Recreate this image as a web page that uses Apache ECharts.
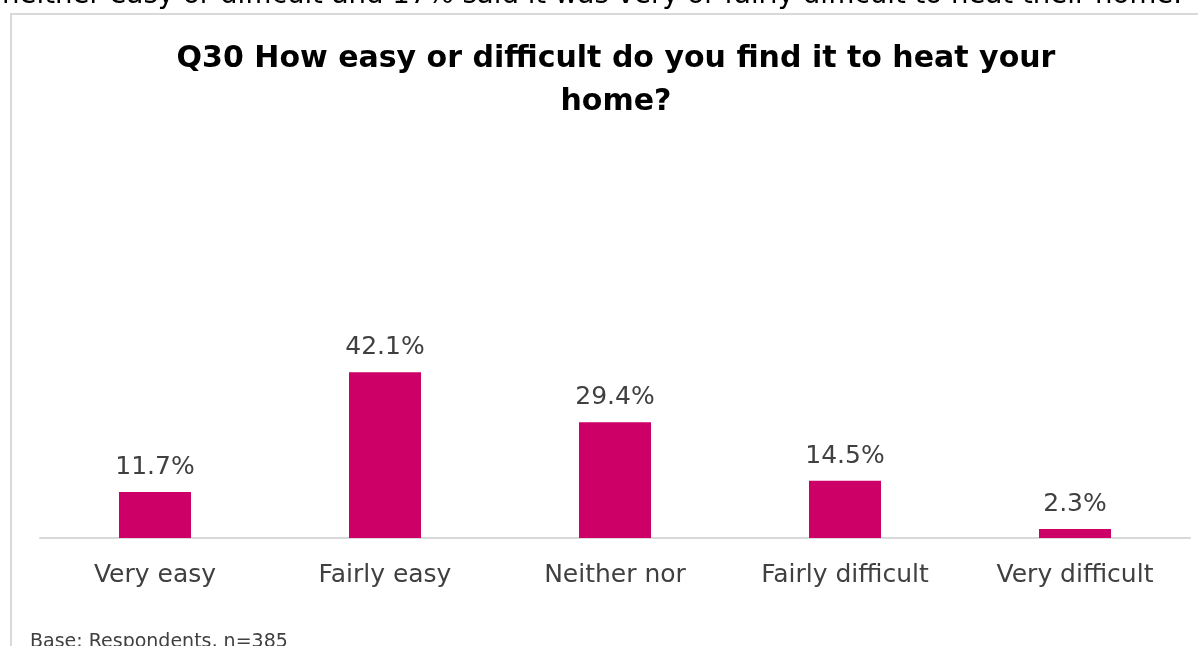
<!DOCTYPE html>
<html>
<head>
<meta charset="utf-8">
<script src="https://cdn.jsdelivr.net/npm/echarts@6/dist/echarts.min.js"></script>
<style>
  html, body { margin: 0; padding: 0; background: #fff; }
  #chart { width: 1198px; height: 646px; }
</style>
</head>
<body>
<div id="chart"></div>
<script>
// Survey responses: ease of heating the home
const categories = ['Very easy', 'Fairly easy', 'Neither nor', 'Fairly difficult', 'Very difficult'];
const shares = [11.7, 42.1, 29.4, 14.5, 2.3];
const titleLines = ['Q30 How easy or difficult do you find it to heat your', 'home?'];
const leadText = 'neither easy or difficult and 17% said it was very or fairly difficult to heat their home.';
const baseNote = 'Base: Respondents, n=385';

const FONT = '"DejaVu Sans", sans-serif';
const chart = echarts.init(document.getElementById('chart'), null, { renderer: 'canvas' });

chart.setOption({
  backgroundColor: '#ffffff',
  animation: false,
  title: {
    text: titleLines.join('\n'),
    left: 611,
    top: 33,
    textAlign: 'center',
    textStyle: { fontFamily: FONT, fontWeight: 'bold', fontSize: 30, lineHeight: 43, color: '#000000' }
  },
  grid: { left: 40, right: 8, top: 341, bottom: 108, containLabel: false },
  xAxis: {
    type: 'category',
    data: categories,
    axisLine: { show: true, lineStyle: { color: '#d9d9d9', width: 2 } },
    axisTick: { show: false },
    axisLabel: { fontFamily: FONT, fontSize: 25, color: '#404040', margin: 25 }
  },
  yAxis: {
    type: 'value',
    min: 0,
    max: 50,
    show: false
  },
  series: [{
    type: 'bar',
    data: shares,
    barWidth: 72,
    itemStyle: { color: '#cc0066' },
    label: {
      show: true,
      position: 'top',
      distance: 12,
      fontFamily: FONT,
      fontSize: 25,
      color: '#404040',
      formatter: p => p.value.toFixed(1) + '%'
    }
  }],
  graphic: [
    {
      type: 'rect',
      shape: { x: 11, y: 14, width: 1200, height: 700 },
      style: { fill: 'none', stroke: '#d9d9d9', lineWidth: 2 },
      silent: true
    },
    {
      type: 'text',
      left: 2,
      top: -18,
      style: { text: leadText, fontFamily: FONT, fontSize: 27.6, fill: '#000000' },
      silent: true
    },
    {
      type: 'text',
      left: 30,
      top: 633,
      style: { text: baseNote, fontFamily: FONT, fontSize: 19, fill: '#404040' },
      silent: true
    }
  ]
});
</script>
</body>
</html>
